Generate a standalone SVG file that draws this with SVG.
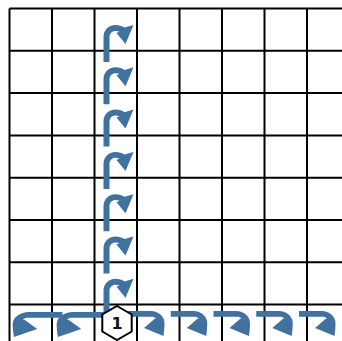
<svg xmlns="http://www.w3.org/2000/svg" xmlns:xlink="http://www.w3.org/1999/xlink" width="342" height="341" viewBox="0 0 342 341">
<style>
.g{stroke:#000;stroke-width:2;fill:none}
.a{fill:#41729F}
.hex{fill:#fff;stroke:#000;stroke-width:2}
.t{font-family:"DejaVu Sans","Liberation Sans",sans-serif;font-weight:bold;font-size:16px;fill:#111}
</style>
<defs>
<path id="av" class="a" d="M0 37 L0 12 C0 5 5 0 12 0 C15.5 0 18.5 1 21 2.6 L30 0 L22 19 L13 8 L16 6.6 C14.8 6.1 13.5 5.9 12 5.9 C8.5 5.9 6 8.5 6 12 L6 37 Z"/>
<path id="ar" class="a" d="M-35 0 L-12 0 C-5 0 1.5 5 1.5 12 C1.5 17 1 21 0.5 25 L-19 17 L-8 7.5 L-6.8 7.8 C-7.8 6.4 -9.6 5.8 -12 5.8 L-35 5.8 Z"/>
<path id="al" class="a" d="M-40 0 L-12 0 C-5 0 1.5 5 1.5 12 C1.5 17 1 21 0.5 25 L-19 17 L-8 7.5 L-6.8 7.8 C-7.8 6.4 -9.6 5.8 -12 5.8 L-40 5.8 Z"/>
</defs>
<rect width="342" height="341" fill="#fff"/>
<g id="grid" class="g">
<path d="M9.5 8.5H342M9.5 50.8H342M9.5 93.1H342M9.5 135.4H342M9.5 177.7H342M9.5 220H342M9.5 262.3H342M9.5 304.6H342"/>
<path d="M9.5 8.5V341M52 8.5V341M94.5 8.5V341M137 8.5V341M179.5 8.5V341M222 8.5V341M264.5 8.5V341M307 8.5V341"/>
</g>
<g id="connectors">
<use xlink:href="#av" transform="translate(103.5 25)"/>
<use xlink:href="#av" transform="translate(103.5 67.3)"/>
<use xlink:href="#av" transform="translate(103.5 109.6)"/>
<use xlink:href="#av" transform="translate(103.5 151.9)"/>
<use xlink:href="#av" transform="translate(103.5 194.2)"/>
<use xlink:href="#av" transform="translate(103.5 236.5)"/>
<use xlink:href="#av" transform="translate(103.5 278.8)"/>
<use xlink:href="#al" transform="translate(14.5 312) scale(-1.2 1)"/>
<use xlink:href="#al" transform="translate(58.5 312) scale(-1.2 1)"/>
<use xlink:href="#ar" transform="translate(163 311)"/>
<use xlink:href="#ar" transform="translate(205.75 311)"/>
<use xlink:href="#ar" transform="translate(248.5 311)"/>
<use xlink:href="#ar" transform="translate(291.25 311)"/>
<use xlink:href="#ar" transform="translate(334 311)"/>
</g>
<g id="node1">
<polygon class="hex" points="117,306 131.7,314.5 131.7,331.5 117,340 102.3,331.5 102.3,314.5"/>
<text class="t" x="117" y="329" text-anchor="middle">1</text>
</g>
</svg>
